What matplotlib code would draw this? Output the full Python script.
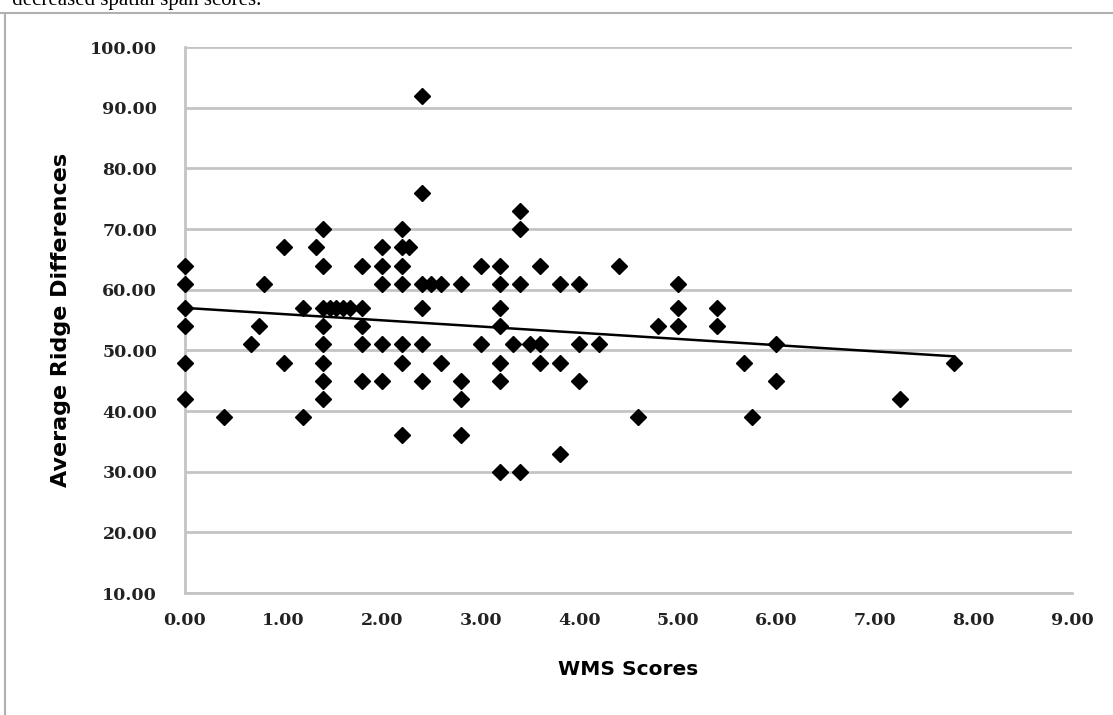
import numpy as np
import matplotlib
matplotlib.use("Agg")
from matplotlib import pyplot as plt
from matplotlib.lines import Line2D

# WMS score (x) and average ridge difference (y)
wms_scores = [
    0.0, 0.0, 0.0, 0.0, 0.0, 0.0,
    0.4, 0.67, 0.75, 0.8,
    1.0, 1.0, 1.2, 1.2, 1.33,
    1.4, 1.4, 1.4, 1.4, 1.4, 1.4, 1.4, 1.4,
    1.47, 1.53, 1.6, 1.67,
    1.8, 1.8, 1.8, 1.8, 1.8,
    2.0, 2.0, 2.0, 2.0, 2.0,
    2.2, 2.2, 2.2, 2.2, 2.2, 2.2, 2.2, 2.27,
    2.4, 2.4, 2.4, 2.4, 2.4, 2.4, 2.5, 2.6, 2.6,
    2.8, 2.8, 2.8, 2.8,
    3.0, 3.0,
    3.2, 3.2, 3.2, 3.2, 3.2, 3.2, 3.2,
    3.33, 3.4, 3.4, 3.4, 3.4, 3.5,
    3.6, 3.6, 3.6, 3.8, 3.8, 3.8,
    4.0, 4.0, 4.0, 4.2, 4.4, 4.6, 4.8,
    5.0, 5.0, 5.0, 5.4, 5.4,
    5.67, 5.75, 6.0, 6.0, 7.25, 7.8,
]
ridge_diffs = [
    64, 61, 57, 54, 48, 42,
    39, 51, 54, 61,
    67, 48, 57, 39, 67,
    70, 64, 57, 54, 51, 48, 45, 42,
    57, 57, 57, 57,
    64, 57, 54, 51, 45,
    67, 64, 61, 51, 45,
    70, 67, 64, 61, 51, 48, 36, 67,
    92, 76, 61, 57, 51, 45, 61, 61, 48,
    61, 45, 42, 36,
    64, 51,
    64, 61, 57, 54, 48, 45, 30,
    51, 73, 70, 61, 30, 51,
    64, 51, 48, 61, 48, 33,
    61, 51, 45, 51, 64, 39, 54,
    61, 57, 54, 57, 54,
    48, 39, 51, 45, 42, 48,
]

x_ticks = [0, 1, 2, 3, 4, 5, 6, 7, 8, 9]
y_ticks = [10, 20, 30, 40, 50, 60, 70, 80, 90, 100]

x = np.array(wms_scores, dtype=float)
y = np.array(ridge_diffs, dtype=float)

# Linear trend over the data range
slope, intercept = np.polyfit(x, y, 1)
xt = np.array([x.min(), x.max()])
yt = intercept + slope * xt

fig = plt.figure(figsize=(11.13, 7.15), dpi=100)
ax = fig.add_axes([0.1662, 0.1706, 0.797, 0.7634])

grid_color = "#c4c4c4"
ax.set_xlim(0, 9)
ax.set_ylim(10, 100)
ax.set_xticks(x_ticks)
ax.set_yticks(y_ticks)
ax.set_xticklabels([f"{v:.2f}" for v in x_ticks])
ax.set_yticklabels([f"{v:.2f}" for v in y_ticks])
ax.grid(axis="y", color=grid_color, linewidth=2.0)
ax.set_axisbelow(True)
ax.tick_params(axis="y", length=0, pad=20)
ax.tick_params(axis="x", length=0, pad=14)
for lab in ax.get_xticklabels() + ax.get_yticklabels():
    lab.set_fontfamily("DejaVu Serif")
    lab.set_fontweight("bold")
    lab.set_fontsize(12.5)
    lab.set_color("#222222")
for side in ("top", "right"):
    ax.spines[side].set_visible(False)
for side in ("left", "bottom"):
    ax.spines[side].set_color(grid_color)
    ax.spines[side].set_linewidth(2.0)

ax.plot(xt, yt, color="black", linewidth=1.8, zorder=3)
ax.plot(x, y, linestyle="none", marker="D", markersize=8,
        color="black", zorder=4, clip_on=False)

ax.set_xlabel("WMS Scores", fontsize=14.5, fontweight="bold", labelpad=22)
ax.set_ylabel("Average Ridge Differences", fontsize=16, fontweight="bold", labelpad=14)

# page frame and clipped caption line from the source document
fig.add_artist(Line2D([0.0045, 0.0045], [0.0, 0.982], transform=fig.transFigure,
                      color="#b0b0b0", linewidth=1.5))
fig.add_artist(Line2D([0.0, 1.0], [0.982, 0.982], transform=fig.transFigure,
                      color="#b0b0b0", linewidth=1.5))
fig.text(0.0, 0.999, "· decreased spatial span scores.", fontfamily="Liberation Serif",
         fontsize=15, va="center", ha="left")

fig.savefig("out.png", dpi=100)
plt.close(fig)
